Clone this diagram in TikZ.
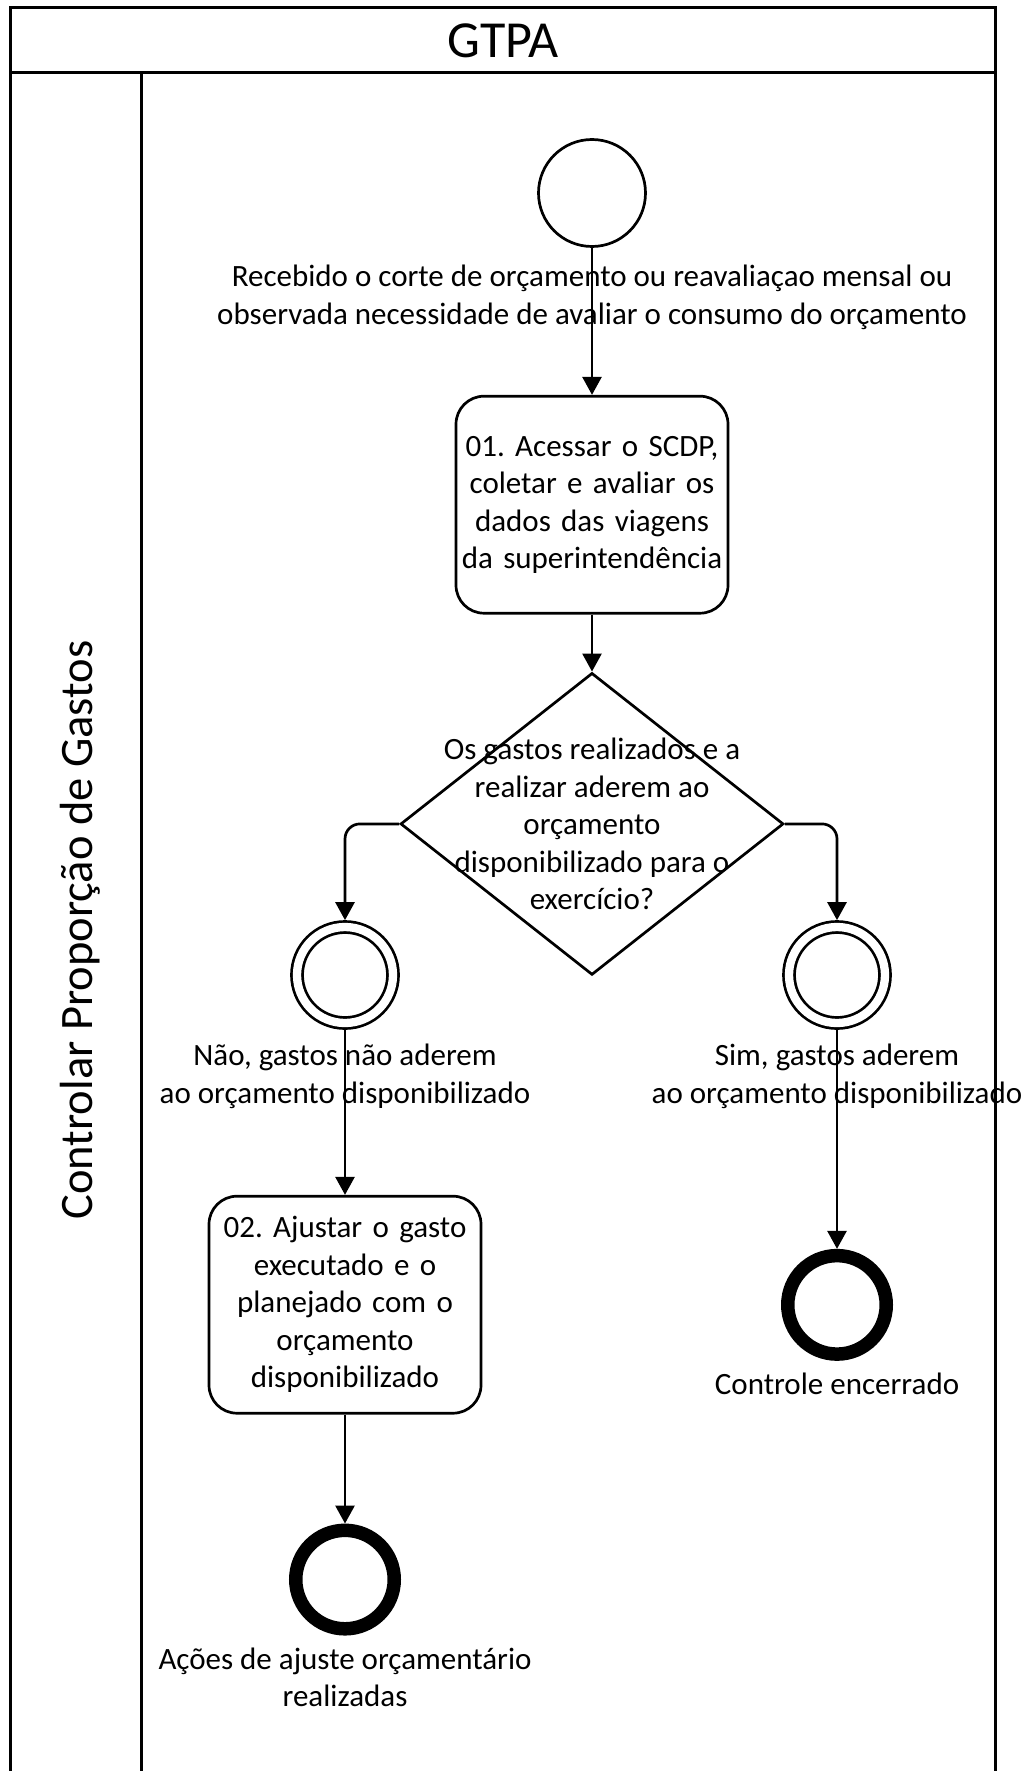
\documentclass[tikz,border=0pt]{standalone}
\usepackage{fontspec}
\setmainfont{Carlito}
\frenchspacing
\usetikzlibrary{positioning,shapes.geometric,arrows.meta}

\tikzset{
  every node/.style={font=\fontsize{31}{37.5}\selectfont},
  borda/.style={line width=3pt},
  inicio/.style={circle, draw, line width=2.7pt, minimum size=107pt, inner sep=0pt},
  intermed/.style={circle, draw, line width=2.7pt, double, double distance=8.3pt, minimum size=96pt, inner sep=0pt, outer sep=6.85pt},
  fim/.style={circle, draw, line width=13.5pt, minimum size=98.5pt, inner sep=0pt},
  tarefa/.style={rectangle, draw, line width=2.7pt, rounded corners=28pt, minimum width=272pt, minimum height=217pt, align=center, text width=270pt, inner sep=0pt},
  gateway/.style={diamond, draw, line width=2.7pt, minimum width=383pt, minimum height=302pt, inner sep=0pt},
  rotulo/.style={align=center, inner sep=0pt},
  fluxo/.style={line width=2.7pt, rounded corners=15pt, -{Triangle[length=18pt,width=19pt]}},
}

\begin{document}
\begin{tikzpicture}[x=1pt, y=-1pt]
  \useasboundingbox (0,0) rectangle (1027,1771);

  % piscina e raia
  \draw[borda] (10,1771) |- (995,8) -- (995,1771);
  \draw[borda] (10,73) -- (995,73);
  \draw[borda] (141,73) -- (141,1771);
  \node[font=\fontsize{52}{62}\selectfont] (titulo) at (503,41) {GTPA};
  \node[rotate=90, font=\fontsize{46.5}{56}\selectfont] (raia) at (80,930) {Controlar Proporção de Gastos};

  % eventos e tarefas
  \node[inicio] (start) at (592,193) {};
  \node[rotulo, below=17pt of start] (startlbl) {Recebido o corte de orçamento ou reavaliaçao mensal ou\\observada necessidade de avaliar o consumo do orçamento};
  \node[tarefa, below=147pt of start] (task01) {01. Acessar o SCDP,\\coletar e avaliar os\\dados das viagens\\da superintendência};
  \node[gateway, below=57pt of task01] (dec) {};
  \node[rotulo] (dectxt) at (dec) {Os gastos realizados e a\\realizar aderem ao\\orçamento\\disponibilizado para o\\exercício?};

  \node[intermed] (nao) at (345,975) {};
  \node[rotulo, below=14pt of nao] (naolbl) {Não, gastos não aderem\\ao orçamento disponibilizado};
  \node[tarefa, below=165pt of nao] (task02) {02. Ajustar o gasto\\executado e o\\planejado com o\\orçamento\\disponibilizado};
  \node[fim, below=109pt of task02] (fim1) {};
  \node[rotulo, below=12pt of fim1] (fim1lbl) {Ações de ajuste orçamentário\\realizadas};

  \node[intermed] (sim) at (837,975) {};
  \node[rotulo, below=14pt of sim] (simlbl) {Sim, gastos aderem\\ao orçamento disponibilizado};
  \node[fim, below=219pt of sim] (fim2) {};
  \node[rotulo, below=12pt of fim2] (fim2lbl) {Controle encerrado};

  % fluxos
  \draw[fluxo] (start) -- (task01);
  \draw[fluxo] (task01) -- (dec);
  \draw[fluxo] (dec.west) -| (nao);
  \draw[fluxo] (dec.east) -| (sim);
  \draw[fluxo] (nao) -- (task02);
  \draw[fluxo] (task02) -- (fim1);
  \draw[fluxo] (sim) -- (fim2);
\end{tikzpicture}
\end{document}
